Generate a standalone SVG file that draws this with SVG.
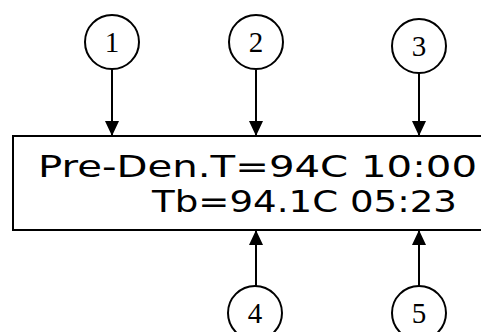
<svg xmlns="http://www.w3.org/2000/svg" width="481" height="332" viewBox="0 0 481 332">
<defs>
<style>
.c{fill:#fff;stroke:#000;stroke-width:2}
.n{font-family:"Liberation Serif",serif;font-size:29px;text-anchor:middle;fill:#000}
.l{stroke:#000;stroke-width:2;fill:none}
.t{font-family:"DejaVu Sans","Noto Sans",sans-serif;font-size:31px;fill:#000}
</style>
<marker id="a" markerWidth="15" markerHeight="14" refX="15" refY="7" orient="auto" markerUnits="userSpaceOnUse" viewBox="0 0 15 14">
<path d="M0,0 L15,7 L0,14 z" fill="#000"/>
</marker>
</defs>
<g id="display">
<rect x="13" y="136" width="470" height="94" class="c"/>
<text class="t" x="38" y="177" textLength="439" lengthAdjust="spacingAndGlyphs">Pre-Den.T=94C 10:00</text>
<text class="t" x="152" y="212" textLength="305" lengthAdjust="spacingAndGlyphs">Tb=94.1C 05:23</text>
</g>
<g id="connectors">
<line class="l" x1="112" y1="69" x2="112" y2="136" marker-end="url(#a)"/>
<line class="l" x1="256" y1="70" x2="256" y2="136" marker-end="url(#a)"/>
<line class="l" x1="419" y1="73" x2="419" y2="136" marker-end="url(#a)"/>
<line class="l" x1="256" y1="286" x2="256" y2="230" marker-end="url(#a)"/>
<line class="l" x1="419" y1="286" x2="419" y2="230" marker-end="url(#a)"/>
</g>
<g id="n1"><circle class="c" cx="112" cy="42" r="27"/><text class="n" x="112" y="52">1</text></g>
<g id="n2"><circle class="c" cx="256" cy="42" r="27"/><text class="n" x="256" y="52">2</text></g>
<g id="n3"><circle class="c" cx="419" cy="46" r="27"/><text class="n" x="419" y="56">3</text></g>
<g id="n4"><circle class="c" cx="255" cy="313" r="27"/><text class="n" x="255" y="323">4</text></g>
<g id="n5"><circle class="c" cx="419" cy="313" r="27"/><text class="n" x="419" y="323">5</text></g>
</svg>
